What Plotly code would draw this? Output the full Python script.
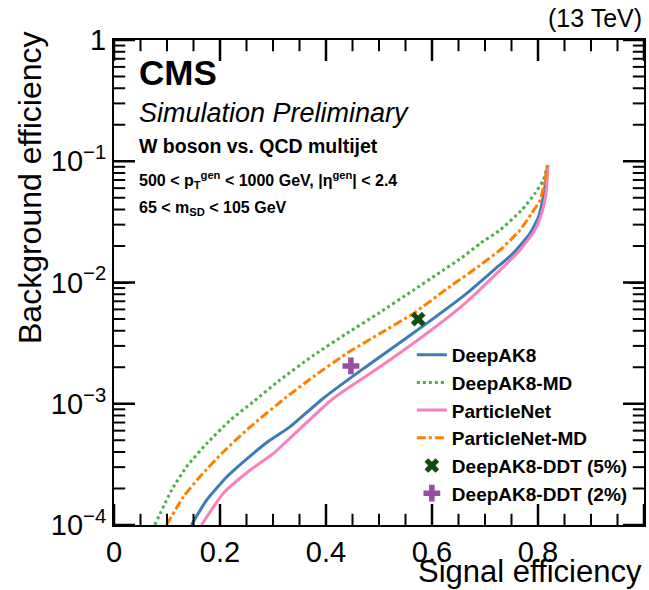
import plotly.graph_objects as go

# ---------------- data ----------------
deepak8_x = [0.146, 0.175, 0.213, 0.263, 0.294, 0.332, 0.395, 0.458, 0.502, 0.590, 0.665,
             0.716, 0.753, 0.785, 0.801, 0.810, 0.815, 0.818]
deepak8_y = [1.0e-4, 1.61e-4, 2.5e-4, 3.9e-4, 5.0e-4, 6.45e-4, 1.11e-3, 1.78e-3, 2.44e-3, 4.6e-3, 8.1e-3,
             1.26e-2, 1.74e-2, 2.54e-2, 3.48e-2, 5.1e-2, 7.0e-2, 9.3e-2]

deepak8md_x = [0.077, 0.109, 0.137, 0.175, 0.219, 0.263, 0.313, 0.376, 0.439, 0.500, 0.565,
               0.610, 0.656, 0.691, 0.728, 0.769, 0.794, 0.810, 0.818]
deepak8md_y = [1.0e-4, 1.95e-4, 3.03e-4, 4.7e-4, 7.3e-4, 1.04e-3, 1.57e-3, 2.5e-3, 3.8e-3, 5.6e-3, 8.65e-3,
               1.17e-2, 1.6e-2, 2.1e-2, 2.7e-2, 3.95e-2, 5.4e-2, 7.0e-2, 9.3e-2]

pnet_x = [0.165, 0.206, 0.257, 0.301, 0.332, 0.414, 0.502, 0.590, 0.665, 0.728, 0.766,
          0.794, 0.807, 0.815, 0.819]
pnet_y = [1.0e-4, 1.82e-4, 2.84e-4, 3.9e-4, 5.2e-4, 1.11e-3, 2.02e-3, 3.8e-3, 6.9e-3, 1.26e-2, 1.85e-2,
          2.7e-2, 3.72e-2, 5.4e-2, 9.3e-2]

pnetmd_x = [0.099, 0.131, 0.162, 0.206, 0.257, 0.326, 0.376, 0.439, 0.500, 0.565, 0.630,
            0.687, 0.728, 0.766, 0.788, 0.804, 0.813, 0.818]
pnetmd_y = [1.0e-4, 1.71e-4, 2.5e-4, 4.0e-4, 6.45e-4, 1.14e-3, 1.67e-3, 2.6e-3, 3.76e-3, 5.56e-3, 9.0e-3,
            1.35e-2, 1.85e-2, 2.7e-2, 3.72e-2, 4.78e-2, 7.0e-2, 9.3e-2]

ddt5_x = [0.574]
ddt5_y = [4.99e-3]
ddt2_x = [0.447]
ddt2_y = [2.05e-3]

x_tickvals = [0, 0.2, 0.4, 0.6, 0.8, 1]
x_ticktext = ["0", "0.2", "0.4", "0.6", "0.8", "1"]
y_tickvals = [1e-4, 1e-3, 1e-2, 1e-1, 1]
y_ticktext = ["10<sup>−4</sup>", "10<sup>−3</sup>", "10<sup>−2</sup>", "10<sup>−1</sup>", "1"]

X_RANGE = [0, 1]
Y_LOG_RANGE = [-4, 0]

# minor tick positions (axis styling)
x_minor = [i * 0.05 for i in range(21) if i % 4 != 0]
y_minor = [m * 10.0 ** e for e in range(-4, 0) for m in range(2, 10)]

FONT = "Liberation Sans, Arial, Helvetica, sans-serif"
W, H = 649, 590
M = dict(l=114, r=5, t=40, b=65)

fig = go.Figure()

def line_trace(x, y, name, color, dash):
    return go.Scatter(x=x, y=y, mode="lines", name="<b>" + name + "</b>",
                      legendgroup=name,
                      line=dict(color=color, width=3, dash=dash, shape="spline", smoothing=0.5))

fig.add_trace(line_trace(deepak8_x, deepak8_y, "DeepAK8", "#3b7cb8", "solid"))
fig.add_trace(line_trace(deepak8md_x, deepak8md_y, "DeepAK8-MD", "#4daf4a", "dot"))
fig.add_trace(line_trace(pnet_x, pnet_y, "ParticleNet", "#f781bf", "solid"))
fig.add_trace(line_trace(pnetmd_x, pnetmd_y, "ParticleNet-MD", "#ff7f00", "dashdot"))
fig.add_trace(go.Scatter(x=ddt5_x, y=ddt5_y, mode="markers", name="<b>DeepAK8-DDT (5%)</b>",
                         legendgroup="ddt5",
                         marker=dict(symbol="x", size=13, color="#114d11")))
fig.add_trace(go.Scatter(x=ddt2_x, y=ddt2_y, mode="markers", name="<b>DeepAK8-DDT (2%)</b>",
                         legendgroup="ddt2",
                         marker=dict(symbol="cross", size=14, color="#984ea3")))

# ---- tick marks: line-shaped markers centred on the frame, half clipped by the plot area ----
def tick_markers(x_vals, y_vals, length_px, width):
    y_lo, y_hi = 10 ** Y_LOG_RANGE[0], 10 ** Y_LOG_RANGE[1]
    xs, ys, syms = [], [], []
    for v in x_vals:
        xs += [v, v]
        ys += [y_lo, y_hi]
        syms += ["line-ns", "line-ns"]
    for v in y_vals:
        xs += [X_RANGE[0], X_RANGE[1]]
        ys += [v, v]
        syms += ["line-ew", "line-ew"]
    return go.Scatter(x=xs, y=ys, mode="markers", showlegend=False, hoverinfo="skip",
                      cliponaxis=True,
                      marker=dict(symbol=syms, size=2 * length_px, color="black",
                                  line=dict(color="black", width=width)))

fig.add_trace(tick_markers(x_tickvals, y_tickvals, 15, 2.5))
fig.add_trace(tick_markers(x_minor, y_minor, 8, 2))

fig.update_xaxes(range=X_RANGE, tickmode="array", tickvals=x_tickvals, ticktext=x_ticktext,
                 showline=True, linecolor="black", linewidth=2, mirror="ticks",
                 ticks="inside", ticklen=15, tickwidth=2, tickcolor="black",
                 showgrid=False, zeroline=False,
                 tickfont=dict(family=FONT, size=29, color="black"))
fig.update_yaxes(type="log", range=Y_LOG_RANGE, tickmode="array", tickvals=y_tickvals, ticktext=y_ticktext,
                 showline=True, linecolor="black", linewidth=2, mirror="ticks",
                 ticks="inside", ticklen=15, tickwidth=2, tickcolor="black",
                 showgrid=False, zeroline=False,
                 tickfont=dict(family=FONT, size=29, color="black"))

annotations = [
    dict(text="(13 TeV)", x=1.0, y=1.045, xref="paper", yref="paper", xanchor="right", yanchor="middle",
         showarrow=False, font=dict(family=FONT, size=25, color="black")),
    dict(text="<b>CMS</b>", x=0.043, y=0.932, xref="paper", yref="paper", xanchor="left", yanchor="middle",
         showarrow=False, font=dict(family=FONT, size=35, color="black")),
    dict(text="<i>Simulation Preliminary</i>", x=0.043, y=0.849, xref="paper", yref="paper",
         xanchor="left", yanchor="middle", showarrow=False, font=dict(family=FONT, size=27, color="black")),
    dict(text="<b>W boson vs. QCD multijet</b>", x=0.043, y=0.781, xref="paper", yref="paper",
         xanchor="left", yanchor="middle", showarrow=False, font=dict(family=FONT, size=19.5, color="black")),
    dict(text="<b>500 < p<sub>T</sub><sup>gen</sup> < 1000 GeV, |η<sup>gen</sup>| < 2.4</b>", x=0.043, y=0.711,
         xref="paper", yref="paper", xanchor="left", yanchor="middle", showarrow=False,
         font=dict(family=FONT, size=16, color="black")),
    dict(text="<b>65 < m<sub>SD</sub> < 105 GeV</b>", x=0.043, y=0.652, xref="paper", yref="paper",
         xanchor="left", yanchor="middle", showarrow=False, font=dict(family=FONT, size=16, color="black")),
    dict(text="Signal efficiency", x=1.0, y=-0.095, xref="paper", yref="paper", xanchor="right",
         yanchor="middle", showarrow=False, font=dict(family=FONT, size=31, color="black")),
    dict(text="Background efficiency", x=-0.1585, y=1.0206, xref="paper", yref="paper", xanchor="center",
         yanchor="top", textangle=-90, showarrow=False, font=dict(family=FONT, size=32, color="black")),
]

fig.update_layout(
    width=W, height=H,
    margin=dict(l=M["l"], r=M["r"], t=M["t"], b=M["b"], autoexpand=False),
    paper_bgcolor="white", plot_bgcolor="white",
    font=dict(family=FONT, color="black"),
    annotations=annotations,
    showlegend=True,
    hovermode=False,
    legend=dict(x=0.562, y=0.39, xanchor="left", yanchor="top",
                bgcolor="rgba(0,0,0,0)", borderwidth=0,
                font=dict(family=FONT, size=19, color="black"),
                tracegroupgap=0, itemwidth=30),
)

fig.write_html("out.html", config={"displayModeBar": False},
               post_script="document.body.style.margin='0';")
